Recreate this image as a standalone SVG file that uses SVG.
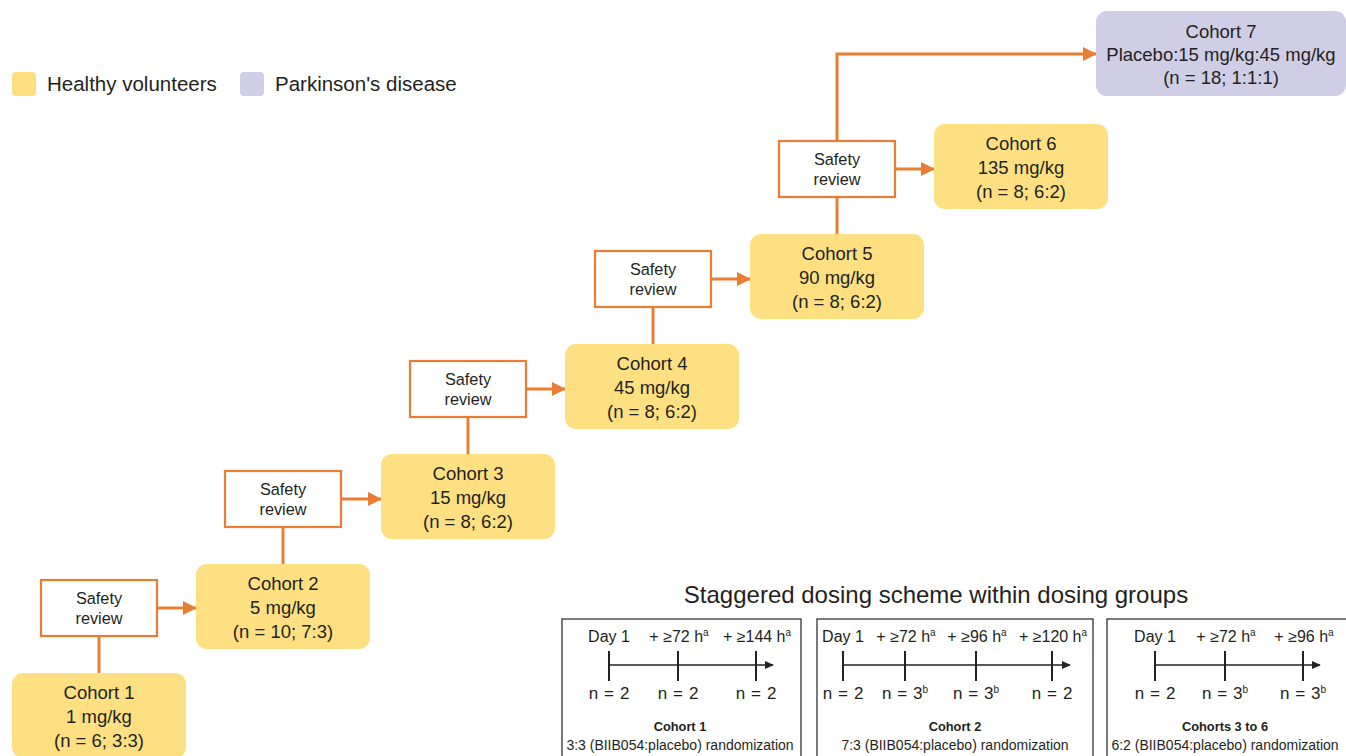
<svg xmlns="http://www.w3.org/2000/svg" width="1346" height="756" viewBox="0 0 1346 756">
<defs>
<marker id="oarr" viewBox="0 0 14 14" refX="13" refY="7" markerUnits="userSpaceOnUse" markerWidth="14" markerHeight="14" orient="auto"><path d="M0,0 L14,7 L0,14 Z" fill="#E97E32"/></marker>
<marker id="karr" viewBox="0 0 10 10" refX="9" refY="5" markerUnits="userSpaceOnUse" markerWidth="9" markerHeight="9" orient="auto"><path d="M0,0.5 L10,5 L0,9.5 Z" fill="#222"/></marker>
<style>
text{font-family:"Liberation Sans",Arial,sans-serif;fill:#231F20}
.hv{fill:#FEE082}
.pd{fill:#D0CDE6}
.ct{font-size:18.5px;text-anchor:middle}
.sr{fill:#fff;stroke:#E97E32;stroke-width:2.2}
.st{font-size:16.3px;text-anchor:middle}
.con{fill:none;stroke:#E97E32;stroke-width:3}
.panel{fill:#fff;stroke:#333;stroke-width:1.3}
.tl{fill:none;stroke:#222;stroke-width:1.3}
.tk{stroke:#222;stroke-width:2}
.lb{font-size:16px;text-anchor:middle}
.nl{font-size:17px;text-anchor:middle;word-spacing:1.2px}
.bd{font-size:12.8px;font-weight:bold;text-anchor:middle}
.rd{font-size:14px;text-anchor:middle}
.sp{font-size:10px}
</style>
</defs>

<g id="legend">
<rect class="hv" x="12" y="72" width="24" height="24" rx="4"/>
<text x="47" y="91" font-size="20.5">Healthy volunteers</text>
<rect class="pd" x="240" y="72" width="24" height="24" rx="4"/>
<text x="275" y="91" font-size="20.5">Parkinson's disease</text>
</g>

<g id="connectors">
<line class="con" x1="99" y1="636" x2="99" y2="673"/>
<line class="con" x1="157" y1="608" x2="196" y2="608" marker-end="url(#oarr)"/>
<line class="con" x1="283" y1="527" x2="283" y2="564"/>
<line class="con" x1="341" y1="499" x2="381" y2="499" marker-end="url(#oarr)"/>
<line class="con" x1="468" y1="417" x2="468" y2="454"/>
<line class="con" x1="526" y1="389" x2="565" y2="389" marker-end="url(#oarr)"/>
<line class="con" x1="653" y1="307" x2="653" y2="344"/>
<line class="con" x1="711" y1="279" x2="750" y2="279" marker-end="url(#oarr)"/>
<line class="con" x1="837" y1="197" x2="837" y2="234"/>
<line class="con" x1="895" y1="169" x2="934" y2="169" marker-end="url(#oarr)"/>
<path class="con" d="M837,141 V54 H1096" marker-end="url(#oarr)"/>
</g>

<g id="cohort1"><rect class="hv" x="12" y="673" width="174" height="85" rx="11"/>
<text class="ct" x="99" y="699">Cohort 1</text><text class="ct" x="99" y="723">1 mg/kg</text><text class="ct" x="99" y="747">(n = 6; 3:3)</text></g>
<g id="cohort2"><rect class="hv" x="196" y="564" width="174" height="85" rx="11"/>
<text class="ct" x="283" y="590">Cohort 2</text><text class="ct" x="283" y="614">5 mg/kg</text><text class="ct" x="283" y="638">(n = 10; 7:3)</text></g>
<g id="cohort3"><rect class="hv" x="381" y="454" width="174" height="85" rx="11"/>
<text class="ct" x="468" y="480">Cohort 3</text><text class="ct" x="468" y="504">15 mg/kg</text><text class="ct" x="468" y="528">(n = 8; 6:2)</text></g>
<g id="cohort4"><rect class="hv" x="565" y="344" width="174" height="85" rx="11"/>
<text class="ct" x="652" y="370">Cohort 4</text><text class="ct" x="652" y="394">45 mg/kg</text><text class="ct" x="652" y="418">(n = 8; 6:2)</text></g>
<g id="cohort5"><rect class="hv" x="750" y="234" width="174" height="85" rx="11"/>
<text class="ct" x="837" y="260">Cohort 5</text><text class="ct" x="837" y="284">90 mg/kg</text><text class="ct" x="837" y="308">(n = 8; 6:2)</text></g>
<g id="cohort6"><rect class="hv" x="934" y="124" width="174" height="85" rx="11"/>
<text class="ct" x="1021" y="150">Cohort 6</text><text class="ct" x="1021" y="174">135 mg/kg</text><text class="ct" x="1021" y="198">(n = 8; 6:2)</text></g>
<g id="cohort7"><rect class="pd" x="1096" y="11" width="250" height="85" rx="11"/>
<text class="ct" x="1221" y="38">Cohort 7</text><text class="ct" x="1221" y="61">Placebo:15 mg/kg:45 mg/kg</text><text class="ct" x="1221" y="84">(n = 18; 1:1:1)</text></g>

<g id="safety1"><rect class="sr" x="41" y="580" width="116" height="56"/><text class="st" x="99" y="604">Safety</text><text class="st" x="99" y="624">review</text></g>
<g id="safety2"><rect class="sr" x="225" y="471" width="116" height="56"/><text class="st" x="283" y="495">Safety</text><text class="st" x="283" y="515">review</text></g>
<g id="safety3"><rect class="sr" x="410" y="361" width="116" height="56"/><text class="st" x="468" y="385">Safety</text><text class="st" x="468" y="405">review</text></g>
<g id="safety4"><rect class="sr" x="595" y="251" width="116" height="56"/><text class="st" x="653" y="275">Safety</text><text class="st" x="653" y="295">review</text></g>
<g id="safety5"><rect class="sr" x="779" y="141" width="116" height="56"/><text class="st" x="837" y="165">Safety</text><text class="st" x="837" y="185">review</text></g>

<g id="staggered">
<text x="936" y="603" font-size="24" text-anchor="middle">Staggered dosing scheme within dosing groups</text>

<g id="panel1">
<rect class="panel" x="562" y="619" width="239" height="150"/>
<text class="lb" x="609" y="642">Day 1</text>
<text class="lb" x="679" y="642">+ ≥72 h<tspan class="sp" dy="-6">a</tspan></text>
<text class="lb" x="757" y="642">+ ≥144 h<tspan class="sp" dy="-6">a</tspan></text>
<line class="tl" x1="609" y1="665" x2="773" y2="665" marker-end="url(#karr)"/>
<line class="tk" x1="609" y1="651" x2="609" y2="681"/>
<line class="tk" x1="678" y1="651" x2="678" y2="681"/>
<line class="tk" x1="756" y1="651" x2="756" y2="681"/>
<text class="nl" x="609" y="699">n = 2</text>
<text class="nl" x="678" y="699">n = 2</text>
<text class="nl" x="756" y="699">n = 2</text>
<text class="bd" x="680" y="731">Cohort 1</text>
<text class="rd" x="680" y="750">3:3 (BIIB054:placebo) randomization</text>
</g>

<g id="panel2">
<rect class="panel" x="817" y="619" width="276" height="150"/>
<text class="lb" x="843" y="642">Day 1</text>
<text class="lb" x="906" y="642">+ ≥72 h<tspan class="sp" dy="-6">a</tspan></text>
<text class="lb" x="977" y="642">+ ≥96 h<tspan class="sp" dy="-6">a</tspan></text>
<text class="lb" x="1053" y="642">+ ≥120 h<tspan class="sp" dy="-6">a</tspan></text>
<line class="tl" x1="843" y1="665" x2="1070" y2="665" marker-end="url(#karr)"/>
<line class="tk" x1="843" y1="651" x2="843" y2="681"/>
<line class="tk" x1="905" y1="651" x2="905" y2="681"/>
<line class="tk" x1="976" y1="651" x2="976" y2="681"/>
<line class="tk" x1="1052" y1="651" x2="1052" y2="681"/>
<text class="nl" x="843" y="699">n = 2</text>
<text class="nl" x="905" y="699">n = 3<tspan class="sp" dy="-6">b</tspan></text>
<text class="nl" x="976" y="699">n = 3<tspan class="sp" dy="-6">b</tspan></text>
<text class="nl" x="1052" y="699">n = 2</text>
<text class="bd" x="955" y="731">Cohort 2</text>
<text class="rd" x="955" y="750">7:3 (BIIB054:placebo) randomization</text>
</g>

<g id="panel3">
<rect class="panel" x="1107" y="619" width="250" height="150"/>
<text class="lb" x="1155" y="642">Day 1</text>
<text class="lb" x="1226" y="642">+ ≥72 h<tspan class="sp" dy="-6">a</tspan></text>
<text class="lb" x="1304" y="642">+ ≥96 h<tspan class="sp" dy="-6">a</tspan></text>
<line class="tl" x1="1155" y1="665" x2="1320" y2="665" marker-end="url(#karr)"/>
<line class="tk" x1="1155" y1="651" x2="1155" y2="681"/>
<line class="tk" x1="1225" y1="651" x2="1225" y2="681"/>
<line class="tk" x1="1303" y1="651" x2="1303" y2="681"/>
<text class="nl" x="1155" y="699">n = 2</text>
<text class="nl" x="1225" y="699">n = 3<tspan class="sp" dy="-6">b</tspan></text>
<text class="nl" x="1303" y="699">n = 3<tspan class="sp" dy="-6">b</tspan></text>
<text class="bd" x="1225" y="731">Cohorts 3 to 6</text>
<text class="rd" x="1225" y="750">6:2 (BIIB054:placebo) randomization</text>
</g>
</g>
</svg>
